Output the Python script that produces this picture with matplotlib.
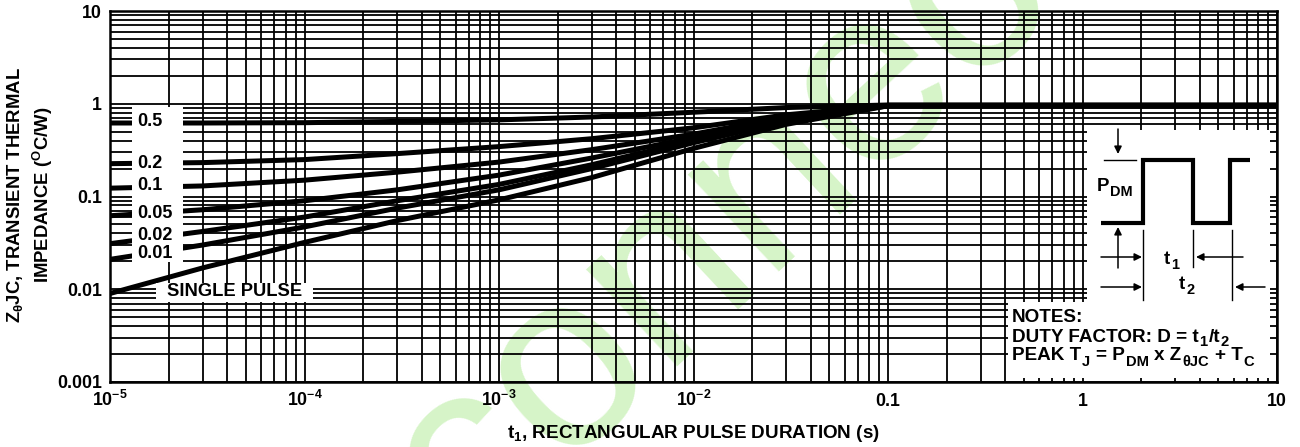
import numpy as np
import matplotlib
matplotlib.use("Agg")
import matplotlib.pyplot as plt
from matplotlib.patches import Rectangle
from matplotlib.ticker import LogLocator, NullFormatter

plt.rcParams['font.family'] = ['Liberation Sans', 'DejaVu Sans']
plt.rcParams['font.weight'] = 'bold'
plt.rcParams['mathtext.fontset'] = 'custom'
plt.rcParams['mathtext.rm'] = 'Liberation Sans:bold'
plt.rcParams['mathtext.it'] = 'Liberation Sans:bold'
plt.rcParams['mathtext.bf'] = 'Liberation Sans:bold'
plt.rcParams['mathtext.sf'] = 'Liberation Sans:bold'

# ---- data ----
t_pts = [1e-5, 3e-5, 1e-4, 3e-4, 1e-3, 3e-3, 1e-2, 3e-2, 1e-1, 1.0, 10.0]
z_d050 = [0.62, 0.62, 0.625, 0.645, 0.67, 0.72, 0.81, 0.91, 0.97, 0.97, 0.97]
z_d020 = [0.226, 0.232, 0.25, 0.29, 0.345, 0.42, 0.55, 0.76, 0.96, 0.96, 0.96]
z_d010 = [0.123, 0.13, 0.15, 0.183, 0.235, 0.32, 0.47, 0.72, 0.96, 0.96, 0.96]
z_d005 = [0.062, 0.072, 0.09, 0.118, 0.17, 0.26, 0.43, 0.69, 0.955, 0.955, 0.955]
z_d002 = [0.031, 0.042, 0.06, 0.09, 0.135, 0.22, 0.40, 0.67, 0.955, 0.955, 0.955]
z_d001 = [0.021, 0.030, 0.047, 0.075, 0.118, 0.20, 0.38, 0.65, 0.95, 0.95, 0.95]
z_single = [0.009, 0.017, 0.032, 0.055, 0.092, 0.16, 0.33, 0.60, 0.95, 0.95, 0.95]

curve_labels = ["0.5", "0.2", "0.1", "0.05", "0.02", "0.01"]
x_ticks = [1e-5, 1e-4, 1e-3, 1e-2, 1e-1, 1, 10]
x_ticklabels = [r"$10^{-5}$", r"$10^{-4}$", r"$10^{-3}$", r"$10^{-2}$", "0.1", "1", "10"]
y_ticks = [0.001, 0.01, 0.1, 1, 10]
y_ticklabels = ["0.001", "0.01", "0.1", "1", "10"]

W, H = 1300, 447
fig = plt.figure(figsize=(W / 100, H / 100), dpi=100, facecolor='white')

# background layer (watermark) in pixel coordinates
bg = fig.add_axes([0, 0, 1, 1], zorder=-1)
bg.set_xlim(0, W)
bg.set_ylim(H, 0)
bg.axis('off')
bg.text(379, 639, "sconnect", fontsize=180, color='#d6f4c8', rotation=43,
        rotation_mode='anchor', ha='left', va='baseline',
        family='Liberation Sans', weight='normal')

L, R, T, B = 110, 1277, 11, 382
ax = fig.add_axes([L / W, 1 - B / H, (R - L) / W, (B - T) / H], zorder=1)
ax.patch.set_visible(False)
ax.set_xscale('log')
ax.set_yscale('log')
ax.set_xlim(1e-5, 10)
ax.set_ylim(0.001, 10)

ax.xaxis.set_minor_locator(LogLocator(base=10, subs=np.arange(2, 10), numticks=20))
ax.yaxis.set_minor_locator(LogLocator(base=10, subs=np.arange(2, 10), numticks=20))
ax.xaxis.set_minor_formatter(NullFormatter())
ax.yaxis.set_minor_formatter(NullFormatter())
ax.grid(True, which='both', color='black', linewidth=1.3)
ax.set_axisbelow(True)
for s in ax.spines.values():
    s.set_linewidth(1.8)

ax.set_xticks(x_ticks)
ax.set_xticklabels(x_ticklabels)
ax.set_yticks(y_ticks)
ax.set_yticklabels(y_ticklabels)
ax.tick_params(which='both', length=0, labelsize=12.8)
ax.tick_params(axis='x', pad=17.3)
ax.tick_params(axis='y', pad=5.8)
for lab in ax.get_xticklabels():
    lab.set_verticalalignment('baseline')

for z in [z_d050, z_d020, z_d010, z_d005, z_d002, z_d001, z_single]:
    ax.plot(t_pts, z, color='black', linewidth=3.6, solid_capstyle='butt', zorder=3)

# ---- overlay in pixel coordinates for annotation boxes, labels and inset ----
ov = fig.add_axes([0, 0, 1, 1], zorder=5)
ov.set_xlim(0, W)
ov.set_ylim(H, 0)
ov.axis('off')
ov.patch.set_alpha(0)

ov.text(693, 438, r"t$_1$, RECTANGULAR PULSE DURATION (s)", fontsize=13.6,
        ha='center', va='baseline')
ov.text(15.5, 195, r"Z$_{\theta}$JC, TRANSIENT THERMAL", rotation=90,
        ha='center', va='center', fontsize=13.3)
ov.text(42.5, 195, r"IMPEDANCE ($^{\rm O}$C/W)", rotation=90,
        ha='center', va='center', fontsize=13.3)

def box(x0, y0, x1, y1):
    ov.add_patch(Rectangle((x0, y0), x1 - x0, y1 - y0, facecolor='white', edgecolor='none'))

box(132, 107, 183, 262)
box(156, 283, 313, 302)
box(1087, 130, 1270, 302)
box(1008, 302, 1270, 378)

label_y = [122, 163, 185, 214, 235, 254]
for lab, yy in zip(curve_labels, label_y):
    ov.text(137, yy, lab, ha='left', va='center', fontsize=13)
ov.text(235, 292, "SINGLE PULSE", ha='center', va='center', fontsize=13.2)

renderer = fig.canvas.get_renderer()

def rich(x, y, pieces, base):
    """Draw text pieces in sequence; piece = (text, scale, dy) or (None, gap_px)."""
    for p in pieces:
        if p[0] is None:
            x += p[1]
            continue
        s, scale, dy = p
        t = ov.text(x, y + dy, s, fontsize=base * scale, ha='left', va='baseline')
        x += t.get_window_extent(renderer).width + 0.8

sp = 5
# pulse waveform
ov.plot([1101, 1143, 1143, 1193, 1193, 1230, 1230, 1250],
        [223, 223, 160, 160, 223, 223, 160, 160], color='black', lw=3,
        solid_joinstyle='miter', solid_capstyle='butt')
ov.plot([1104, 1136], [160, 160], color='black', lw=1)
ap = dict(arrowstyle='-|>', lw=1.1, color='black', mutation_scale=11, shrinkA=0, shrinkB=0)
ov.annotate('', xy=(1118, 154), xytext=(1118, 129), arrowprops=ap)
ov.annotate('', xy=(1118, 227), xytext=(1118, 268), arrowprops=ap)
ov.annotate('', xy=(1142, 257), xytext=(1101, 257), arrowprops=ap)
ov.annotate('', xy=(1196, 257), xytext=(1243, 257), arrowprops=ap)
ov.annotate('', xy=(1142, 287), xytext=(1101, 287), arrowprops=ap)
ov.annotate('', xy=(1235, 287), xytext=(1265, 287), arrowprops=ap)
ov.plot([1143, 1143], [230, 300], color='black', lw=1)
ov.plot([1193, 1193], [230, 267], color='black', lw=1)
ov.plot([1232, 1232], [230, 300], color='black', lw=1)
rich(1097, 191, [("P", 1, 0), ("DM", 0.78, 5)], 13.4)
rich(1164, 264, [("t", 1, 0), ("1", 0.78, 5)], 13.4)
rich(1179, 289, [("t", 1, 0), ("2", 0.78, 5)], 13.4)

nb = 13.6
ov.text(1012, 321.5, "NOTES:", ha='left', va='baseline', fontsize=nb)
rich(1012, 341.5, [("DUTY FACTOR: D = t", 1, 0), ("1", 0.78, 5), ("/t", 1, 0), ("2", 0.78, 5)], nb)
rich(1012, 360.5, [("PEAK T", 1, 0), ("J", 0.78, 5), (None, sp), ("= P", 1, 0), ("DM", 0.78, 5),
                   (None, sp), ("x Z", 1, 0), ("\u03b8JC", 0.78, 5), (None, sp),
                   ("+ T", 1, 0), ("C", 0.78, 5)], nb)

fig.savefig("out.png", dpi=100, facecolor='white')
